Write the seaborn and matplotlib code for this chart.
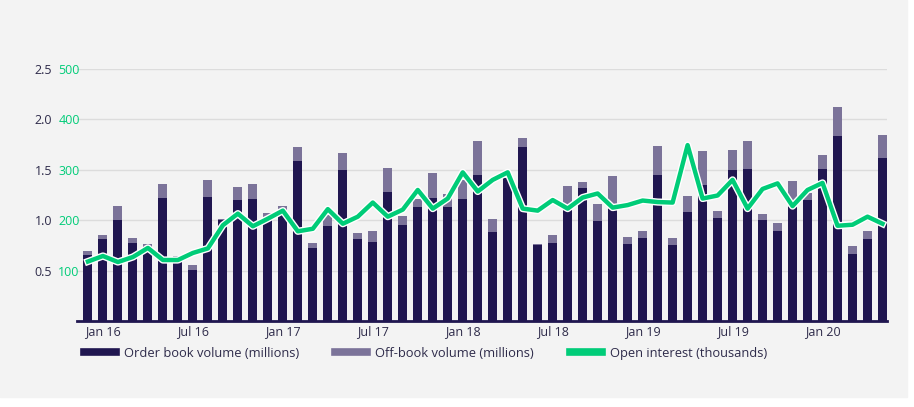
import numpy as np
import pandas as pd
import matplotlib
matplotlib.use("Agg")
import matplotlib.pyplot as plt
import matplotlib.patheffects as pe
import seaborn as sns
from matplotlib.lines import Line2D

# ---- data (Dec 2015 .. May 2020, monthly) ----
months = pd.date_range("2015-12-01", "2020-05-01", freq="MS")
order_book = [0.65, 0.81, 1.00, 0.77, 0.74, 1.22, 0.62, 0.51, 1.23, 1.00,
              1.20, 1.21, 1.03, 1.10, 1.59, 0.72, 0.94, 1.50, 0.81, 0.78,
              1.28, 0.95, 1.13, 1.22, 1.13, 1.21, 1.45, 0.88, 1.42, 1.73,
              0.75, 0.77, 1.10, 1.32, 0.99, 1.11, 0.76, 0.82, 1.45, 0.75,
              1.08, 1.35, 1.02, 1.50, 1.51, 1.00, 0.89, 1.13, 1.20, 1.51,
              1.84, 0.66, 0.81, 1.62]
off_book = [0.04, 0.04, 0.14, 0.05, 0.02, 0.14, 0.02, 0.05, 0.17, 0.01,
            0.13, 0.15, 0.04, 0.04, 0.14, 0.05, 0.11, 0.17, 0.06, 0.11,
            0.24, 0.09, 0.08, 0.25, 0.13, 0.19, 0.34, 0.13, 0.00, 0.09,
            0.01, 0.08, 0.24, 0.06, 0.17, 0.33, 0.07, 0.07, 0.29, 0.07,
            0.16, 0.34, 0.07, 0.20, 0.28, 0.06, 0.08, 0.26, 0.07, 0.14,
            0.28, 0.08, 0.08, 0.23]
open_interest = [118, 129, 117, 127, 145, 121, 121, 135, 144, 190,
                 213, 188, 203, 219, 178, 183, 222, 193, 207, 235,
                 207, 221, 260, 223, 243, 295, 257, 280, 295, 223,
                 219, 240, 223, 245, 253, 225, 230, 239, 236, 235,
                 349, 243, 249, 280, 223, 262, 273, 228, 260, 274,
                 189, 191, 207, 193]
tick_labels = ["Jan 16", "Jul 16", "Jan 17", "Jul 17", "Jan 18", "Jul 18",
               "Jan 19", "Jul 19", "Jan 20"]
vol_ticks = [0.5, 1.0, 1.5, 2.0, 2.5]
oi_ticks = [100, 200, 300, 400, 500]
legend_labels = ["Order book volume (millions)", "Off-book volume (millions)",
                 "Open interest (thousands)"]

NAVY = "#201650"
OFF = "#7b7399"
GREEN = "#00cc78"
BG = "#f3f3f3"
TXT = "#2e2b4a"

df = pd.DataFrame({"pos": np.arange(len(months)),
                   "order": order_book, "off": off_book, "oi": open_interest})
df["total"] = df["order"] + df["off"]

plt.rcParams["font.family"] = ["Open Sans", "DejaVu Sans"]

fig = plt.figure(figsize=(9.14, 4.07), dpi=100)
fig.patch.set_facecolor("white")
fig.patches.append(plt.Rectangle((0, 1 - 397 / 407), 907 / 914, 397 / 407,
                                 transform=fig.transFigure, color=BG, zorder=-10))

ax = fig.add_axes([77 / 914, 1 - 321 / 407, 810 / 914, 252 / 407])
ax.set_facecolor(BG)
sns.barplot(data=df, x="pos", y="total", color=OFF, width=0.6, ax=ax,
            saturation=1, edgecolor="none", zorder=2)
sns.barplot(data=df, x="pos", y="order", color=NAVY, width=0.6, ax=ax,
            saturation=1, edgecolor="none", zorder=3)
ax.set_ylim(0, 2.5)
ax.set_xlim(-0.73, 53.3)
ax.set_yticks(vol_ticks)
ax.set_yticklabels([f"{v:.1f}" for v in vol_ticks])
ax.tick_params(axis="y", length=0, pad=18, labelsize=9, labelcolor=TXT)
jan16 = 1
ax.set_xticks([jan16 + 6 * i for i in range(len(tick_labels))])
ax.set_xticklabels(tick_labels)
ax.tick_params(axis="x", length=0, pad=3, labelsize=9, labelcolor=TXT)
ax.set_xlabel("")
ax.set_ylabel("")
ax.grid(axis="y", color="#dcdcdc", linewidth=1, zorder=0)
ax.grid(axis="x", visible=False)
ax.set_axisbelow(True)
for s in ["top", "right", "left"]:
    ax.spines[s].set_visible(False)
ax.spines["bottom"].set_color(NAVY)
ax.spines["bottom"].set_linewidth(2)
ax.spines["bottom"].set_zorder(5)

ax2 = ax.twinx()
sns.lineplot(data=df, x="pos", y="oi", color=GREEN, linewidth=3.2, ax=ax2,
             path_effects=[pe.Stroke(linewidth=5.2, foreground="white"), pe.Normal()],
             zorder=6)
ax2.set_ylim(0, 500)
ax2.set_xlim(-0.73, 53.3)
ax2.yaxis.tick_left()
ax2.set_yticks(oi_ticks)
ax2.tick_params(axis="y", length=0, pad=-2, labelsize=9, labelcolor=GREEN)
ax2.set_ylabel("")
for s in ax2.spines.values():
    s.set_visible(False)

handles = [Line2D([0], [0], color=NAVY, lw=5.5),
           Line2D([0], [0], color=OFF, lw=5.5),
           Line2D([0], [0], color=GREEN, lw=5.5)]
fig.legend(handles, legend_labels, loc="upper left", ncol=3,
           bbox_to_anchor=(72 / 914, 1 - 335 / 407), frameon=False,
           fontsize=9.3, handlelength=2.5, handletextpad=0.6,
           columnspacing=2.8, labelcolor=TXT)

fig.savefig("out.png", dpi=100, facecolor=fig.get_facecolor())
